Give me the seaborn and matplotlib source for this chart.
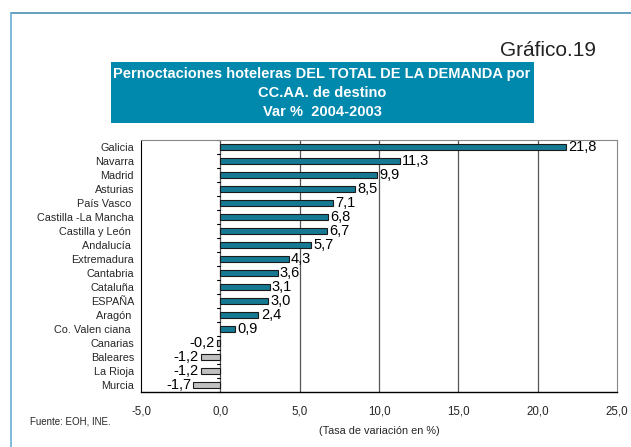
import numpy as np
import pandas as pd
import matplotlib
matplotlib.use("Agg")
import matplotlib.pyplot as plt
import seaborn as sns
from matplotlib.lines import Line2D
from matplotlib.patches import Rectangle

# datos del grafico
regiones = ["Galicia", "Navarra", "Madrid", "Asturias", "País Vasco ",
            "Castilla -La Mancha", "Castilla y León ", "Andalucía ",
            "Extremadura", "Cantabria", "Cataluña", "ESPAÑA", "Aragón ",
            "Co. Valen ciana ", "Canarias", "Baleares", "La Rioja", "Murcia"]
variacion = [21.8, 11.3, 9.9, 8.5, 7.1, 6.8, 6.7, 5.7, 4.3, 3.6, 3.1, 3.0,
             2.4, 0.9, -0.2, -1.2, -1.2, -1.7]
ticks_x = [-5, 0, 5, 10, 15, 20, 25]

df = pd.DataFrame({"region": regiones, "var": variacion})
df["signo"] = np.where(df["var"] >= 0, "pos", "neg")

sns.set_style("white")
plt.rcParams["font.family"] = ["Liberation Sans", "DejaVu Sans"]

fig = plt.figure(figsize=(6.31, 4.47), dpi=100)
ax = fig.add_axes([0.2235, 0.123, 0.7545, 0.564])

sns.barplot(data=df, y="region", x="var", hue="signo", orient="h",
            palette={"pos": "#0085A8", "neg": "#C0C0C0"}, dodge=False,
            width=0.45, edgecolor="#1a1a1a", linewidth=0.8, legend=False, ax=ax)

ax.set_xlim(-5, 25)
ax.set_ylim(len(regiones) - 0.5, -0.5)
ax.set_xticks(ticks_x)
ax.set_xticklabels([f"{t:.1f}".replace(".", ",") for t in ticks_x], fontsize=8.3)
ax.tick_params(axis="x", length=4, width=0.8, color="black", pad=6, direction="out")
ax.tick_params(axis="y", length=0, labelsize=7.8, pad=5)
ax.set_xlabel("(Tasa de variación en %)", fontsize=7.8, labelpad=6)
ax.set_ylabel("")

# lineas verticales
for t in [0, 5, 10, 15, 20]:
    ax.axvline(t, color="#555555", lw=0.9, zorder=0)
# marcas entre categorias sobre el eje 0
for i in range(len(regiones) + 1):
    ax.plot([-0.2, 0], [i - 0.5, i - 0.5], color="black", lw=0.8,
            clip_on=False, zorder=1)

for s in ["top", "right"]:
    ax.spines[s].set_color("#888888")
    ax.spines[s].set_linewidth(0.8)
ax.spines["left"].set_color("black")
ax.spines["left"].set_linewidth(0.8)
ax.spines["bottom"].set_color("black")
ax.spines["bottom"].set_linewidth(1.0)

# etiquetas de valores
for i, v in enumerate(variacion):
    txt = f"{v:.1f}".replace(".", ",")
    if v >= 0:
        ax.text(v + 0.15, i, txt, va="center", ha="left", fontsize=10.5,
                color="black")
    else:
        ax.text(v - 0.15, i, txt, va="center", ha="right", fontsize=10.5,
                color="black")

# titulo
fig.patches.append(Rectangle((111 / 631, 1 - 123 / 447), 423 / 631, 61 / 447,
                             transform=fig.transFigure, facecolor="#0088AD",
                             edgecolor="none"))
fig.text(322 / 631, 1 - 93 / 447,
         "Pernoctaciones hoteleras DEL TOTAL DE LA DEMANDA por\nCC.AA. de destino\nVar %  2004-2003",
         ha="center", va="center", color="white", fontsize=10.5,
         fontweight="bold", linespacing=1.45)
fig.text(596 / 631, 1 - 50 / 447, "Gráfico.19", ha="right", va="center",
         fontsize=15, color="#222222")
fig.text(30 / 631, 1 - 422 / 447, "Fuente: EOH, INE.", ha="left",
         va="center", fontsize=7)

# marco de la figura
fig.add_artist(Line2D([11 / 631, 1], [1 - 13 / 447, 1 - 13 / 447],
                      transform=fig.transFigure, color="#4C8FB5", lw=1.2))
fig.add_artist(Line2D([11 / 631, 11 / 631], [0, 1 - 13 / 447],
                      transform=fig.transFigure, color="#6AAFD6", lw=1.2))

fig.savefig("out.png", dpi=100)
